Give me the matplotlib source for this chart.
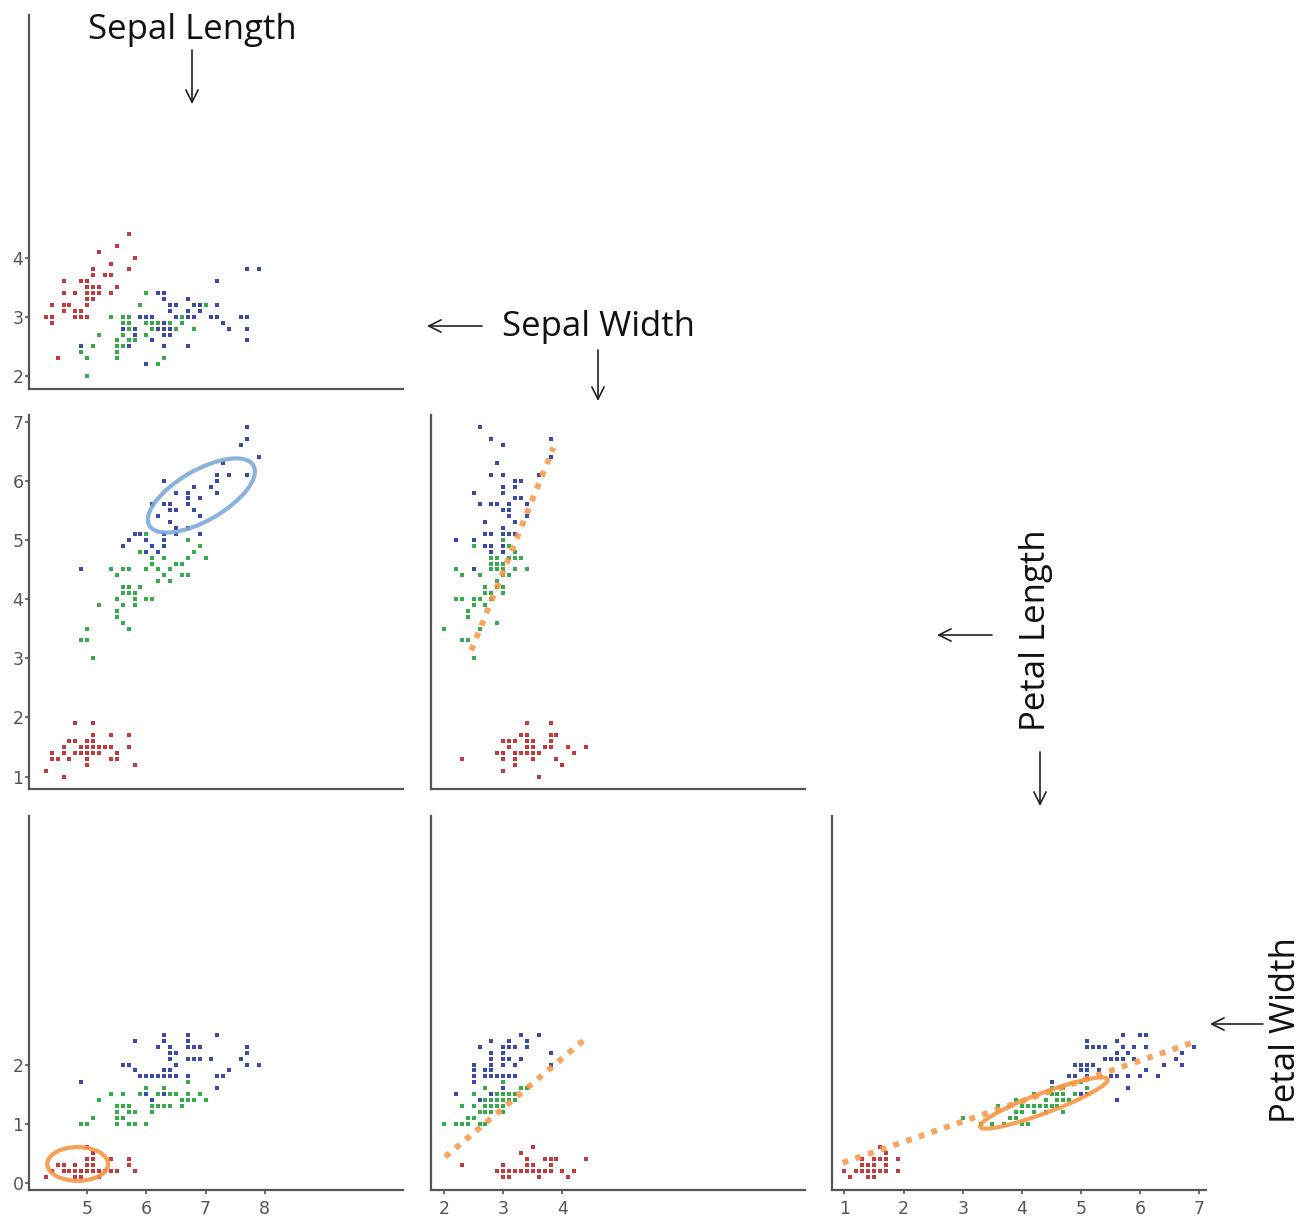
import matplotlib
matplotlib.use('Agg')
import matplotlib.pyplot as plt
from matplotlib.patches import Ellipse, FancyArrowPatch

# iris data, 50 setosa, 50 versicolor, 50 virginica
sepal_length = [5.1, 4.9, 4.7, 4.6, 5.0, 5.4, 4.6, 5.0, 4.4, 4.9, 5.4, 4.8, 4.8, 4.3, 5.8, 5.7, 5.4, 5.1, 5.7, 5.1,
                5.4, 5.1, 4.6, 5.1, 4.8, 5.0, 5.0, 5.2, 5.2, 4.7, 4.8, 5.4, 5.2, 5.5, 4.9, 5.0, 5.5, 4.9, 4.4, 5.1,
                5.0, 4.5, 4.4, 5.0, 5.1, 4.8, 5.1, 4.6, 5.3, 5.0,
                7.0, 6.4, 6.9, 5.5, 6.5, 5.7, 6.3, 4.9, 6.6, 5.2, 5.0, 5.9, 6.0, 6.1, 5.6, 6.7, 5.6, 5.8, 6.2, 5.6,
                5.9, 6.1, 6.3, 6.1, 6.4, 6.6, 6.8, 6.7, 6.0, 5.7, 5.5, 5.5, 5.8, 6.0, 5.4, 6.0, 6.7, 6.3, 5.6, 5.5,
                5.5, 6.1, 5.8, 5.0, 5.6, 5.7, 5.7, 6.2, 5.1, 5.7,
                6.3, 5.8, 7.1, 6.3, 6.5, 7.6, 4.9, 7.3, 6.7, 7.2, 6.5, 6.4, 6.8, 5.7, 5.8, 6.4, 6.5, 7.7, 7.7, 6.0,
                6.9, 5.6, 7.7, 6.3, 6.7, 7.2, 6.2, 6.1, 6.4, 7.2, 7.4, 7.9, 6.4, 6.3, 6.1, 7.7, 6.3, 6.4, 6.0, 6.9,
                6.7, 6.9, 5.8, 6.8, 6.7, 6.7, 6.3, 6.5, 6.2, 5.9]
sepal_width = [3.5, 3.0, 3.2, 3.1, 3.6, 3.9, 3.4, 3.4, 2.9, 3.1, 3.7, 3.4, 3.0, 3.0, 4.0, 4.4, 3.9, 3.5, 3.8, 3.8,
               3.4, 3.7, 3.6, 3.3, 3.4, 3.0, 3.4, 3.5, 3.4, 3.2, 3.1, 3.4, 4.1, 4.2, 3.1, 3.2, 3.5, 3.6, 3.0, 3.4,
               3.5, 2.3, 3.2, 3.5, 3.8, 3.0, 3.8, 3.2, 3.7, 3.3,
               3.2, 3.2, 3.1, 2.3, 2.8, 2.8, 3.3, 2.4, 2.9, 2.7, 2.0, 3.0, 2.2, 2.9, 2.9, 3.1, 3.0, 2.7, 2.2, 2.5,
               3.2, 2.8, 2.5, 2.8, 2.9, 3.0, 2.8, 3.0, 2.9, 2.6, 2.4, 2.4, 2.7, 2.7, 3.0, 3.4, 3.1, 2.3, 3.0, 2.5,
               2.6, 3.0, 2.6, 2.3, 2.7, 3.0, 2.9, 2.9, 2.5, 2.8,
               3.3, 2.7, 3.0, 2.9, 3.0, 3.0, 2.5, 2.9, 2.5, 3.6, 3.2, 2.7, 3.0, 2.5, 2.8, 3.2, 3.0, 3.8, 2.6, 2.2,
               3.2, 2.8, 2.8, 2.7, 3.3, 3.2, 2.8, 3.0, 2.8, 3.0, 2.8, 3.8, 2.8, 2.8, 2.6, 3.0, 3.4, 3.1, 3.0, 3.1,
               3.1, 3.1, 2.7, 3.2, 3.3, 3.0, 2.5, 3.0, 3.4, 3.0]
petal_length = [1.4, 1.4, 1.3, 1.5, 1.4, 1.7, 1.4, 1.5, 1.4, 1.5, 1.5, 1.6, 1.4, 1.1, 1.2, 1.5, 1.3, 1.4, 1.7, 1.5,
                1.7, 1.5, 1.0, 1.7, 1.9, 1.6, 1.6, 1.5, 1.4, 1.6, 1.6, 1.5, 1.5, 1.4, 1.5, 1.2, 1.3, 1.4, 1.3, 1.5,
                1.3, 1.3, 1.3, 1.6, 1.9, 1.4, 1.6, 1.4, 1.5, 1.4,
                4.7, 4.5, 4.9, 4.0, 4.6, 4.5, 4.7, 3.3, 4.6, 3.9, 3.5, 4.2, 4.0, 4.7, 3.6, 4.4, 4.5, 4.1, 4.5, 3.9,
                4.8, 4.0, 4.9, 4.7, 4.3, 4.4, 4.8, 5.0, 4.5, 3.5, 3.8, 3.7, 3.9, 5.1, 4.5, 4.5, 4.7, 4.4, 4.1, 4.0,
                4.4, 4.6, 4.0, 3.3, 4.2, 4.2, 4.2, 4.3, 3.0, 4.1,
                6.0, 5.1, 5.9, 5.6, 5.8, 6.6, 4.5, 6.3, 5.8, 6.1, 5.1, 5.3, 5.5, 5.0, 5.1, 5.3, 5.5, 6.7, 6.9, 5.0,
                5.7, 4.9, 6.7, 4.9, 5.7, 6.0, 4.8, 4.9, 5.6, 5.8, 6.1, 6.4, 5.6, 5.1, 5.6, 6.1, 5.6, 5.5, 4.8, 5.4,
                5.6, 5.1, 5.1, 5.9, 5.7, 5.2, 5.0, 5.2, 5.4, 5.1]
petal_width = [0.2, 0.2, 0.2, 0.2, 0.2, 0.4, 0.3, 0.2, 0.2, 0.1, 0.2, 0.2, 0.1, 0.1, 0.2, 0.4, 0.4, 0.3, 0.3, 0.3,
               0.2, 0.4, 0.2, 0.5, 0.2, 0.2, 0.4, 0.2, 0.2, 0.2, 0.2, 0.4, 0.1, 0.2, 0.2, 0.2, 0.2, 0.1, 0.2, 0.2,
               0.3, 0.3, 0.2, 0.6, 0.4, 0.3, 0.2, 0.2, 0.2, 0.2,
               1.4, 1.5, 1.5, 1.3, 1.5, 1.3, 1.6, 1.0, 1.3, 1.4, 1.0, 1.5, 1.0, 1.4, 1.3, 1.4, 1.5, 1.0, 1.5, 1.1,
               1.8, 1.3, 1.5, 1.2, 1.3, 1.4, 1.4, 1.7, 1.5, 1.0, 1.1, 1.0, 1.2, 1.6, 1.5, 1.6, 1.5, 1.3, 1.3, 1.3,
               1.2, 1.4, 1.2, 1.0, 1.3, 1.2, 1.3, 1.3, 1.1, 1.3,
               2.5, 1.9, 2.1, 1.8, 2.2, 2.1, 1.7, 1.8, 1.8, 2.5, 2.0, 1.9, 2.1, 2.0, 2.4, 2.3, 1.8, 2.2, 2.3, 1.5,
               2.3, 2.0, 2.0, 1.8, 2.1, 1.8, 1.8, 1.8, 2.1, 1.6, 1.9, 2.0, 2.2, 1.5, 1.4, 2.3, 2.4, 1.8, 1.8, 2.1,
               2.4, 2.3, 1.9, 2.3, 2.5, 2.3, 1.9, 2.0, 2.3, 1.8]
species = ['setosa'] * 50 + ['versicolor'] * 50 + ['virginica'] * 50

var_names = ['Sepal Length', 'Sepal Width', 'Petal Length', 'Petal Width']
var_ticks = [[5, 6, 7, 8], [2, 3, 4], [1, 2, 3, 4, 5, 6, 7], [0, 1, 2]]
var_min = [4.017, 1.78, 0.79, -0.12]

# hand drawn overlays: dotted trend lines [x0, x1], [y0, y1]
trend_sw_pl = [[2.46, 3.85], [3.13, 6.56]]
trend_sw_pw = [[2.02, 4.42], [0.44, 2.46]]
trend_pl_pw = [[0.97, 6.88], [0.34, 2.37]]
# ellipses: centre x, centre y, width, height, angle
ell_sl_pl = [6.93, 5.75, 2.03, 0.85, 30]
ell_sl_pw = [4.84, 0.32, 1.03, 0.57, 0]
ell_pl_pw = [4.37, 1.35, 2.30, 0.34, 20.5]

colors = {'setosa': '#c43a3a', 'versicolor': '#35ab4a', 'virginica': '#3a4aa8'}
orange = '#f79646'
span = 6.32

W, H = 1307, 1225
fig = plt.figure(figsize=(W / 100, H / 100), dpi=100)

cols = [29, 431, 832]
rows = [15, 415, 816]
size = 374

data = [sepal_length, sepal_width, petal_length, petal_width]
axes = {}
for r in range(3):
    for c in range(r + 1):
        ax = fig.add_axes([cols[c] / W, 1 - (rows[r] + size) / H, size / W, size / H])
        xi, yi = c, r + 1
        for sp in ['setosa', 'versicolor', 'virginica']:
            xs = [data[xi][k] for k in range(150) if species[k] == sp]
            ys = [data[yi][k] for k in range(150) if species[k] == sp]
            ax.scatter(xs, ys, s=5, marker='s', color=colors[sp], linewidths=0, zorder=3)
        ax.set_xlim(var_min[xi], var_min[xi] + span)
        ax.set_ylim(var_min[yi], var_min[yi] + span)
        for s in ['top', 'right']:
            ax.spines[s].set_visible(False)
        for s in ['left', 'bottom']:
            ax.spines[s].set_color('#555555')
            ax.spines[s].set_linewidth(1.6)
        ax.tick_params(colors='#555555', labelcolor='#555555', labelsize=12.5, length=3, width=1.2)
        ax.tick_params(axis='y', pad=1)
        ax.tick_params(axis='x', pad=4)
        if c == 0:
            ax.set_yticks(var_ticks[yi])
        else:
            ax.set_yticks([])
        if r == 2:
            ax.set_xticks(var_ticks[xi])
        else:
            ax.set_xticks([])
        axes[(r, c)] = ax

# dotted lines
for (r, c), tr in [((1, 1), trend_sw_pl), ((2, 1), trend_sw_pw), ((2, 2), trend_pl_pw)]:
    axes[(r, c)].plot(tr[0], tr[1], color=orange, lw=4.2, alpha=0.85, linestyle=(0, (1, 1.3)),
                      solid_capstyle='butt', dash_capstyle='butt', zorder=4)

# ellipses
for (r, c), e, col in [((1, 0), ell_sl_pl, '#7eaad6'), ((2, 0), ell_sl_pw, orange), ((2, 2), ell_pl_pw, orange)]:
    axes[(r, c)].add_patch(Ellipse((e[0], e[1]), e[2], e[3], angle=e[4], fill=False,
                                   edgecolor=col, lw=3, alpha=0.9, zorder=5))


def px(x, y):
    return (x / W, 1 - y / H)


font = 'Open Sans'
fig.text(*px(192, 39), 'Sepal Length', ha='center', va='baseline', fontsize=25, family=font, color='#111111')
fig.text(*px(598, 336), 'Sepal Width', ha='center', va='baseline', fontsize=25, family=font, color='#111111')
fig.text(*px(1036, 630), 'Petal Length', ha='center', va='center', rotation=90, fontsize=25, family=font, color='#111111')
fig.text(*px(1286, 1030), 'Petal Width', ha='center', va='center', rotation=90, fontsize=25, family=font, color='#111111')

arrows = [((192, 50), (192, 104)), ((482, 326), (427, 326)), ((598, 350), (598, 401)),
          ((992, 635), (937, 635)), ((1040, 752), (1040, 806)), ((1263, 1024), (1210, 1024))]
for a, b in arrows:
    fig.add_artist(FancyArrowPatch(px(*a), px(*b), transform=fig.transFigure, arrowstyle='->',
                                   mutation_scale=22, lw=1.2, color='#222222', shrinkA=0, shrinkB=0))

fig.savefig('out.png', dpi=100)
